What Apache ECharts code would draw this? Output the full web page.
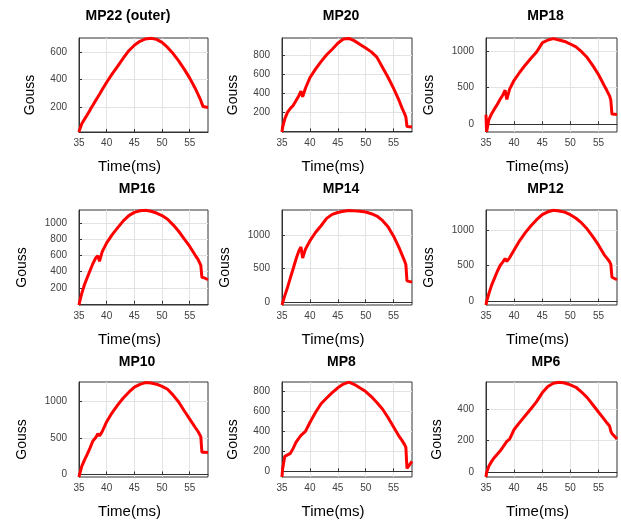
<!DOCTYPE html>
<html>
<head>
<meta charset="utf-8">
<script src="https://cdn.jsdelivr.net/npm/echarts@6/dist/echarts.min.js"></script>
<style>html,body{margin:0;padding:0;background:#fff}#chart{width:621px;height:520px}</style>
</head>
<body>
<div id="chart"></div>
<script>
// Shared time axis (ms)
const time = [35.0, 35.1, 35.5, 36, 36.5, 37, 37.5, 38, 38.4, 38.7, 39.2,
  40, 41, 42, 43, 44, 45, 46, 47, 48, 49, 50, 51, 52, 53, 54, 55, 56,
  56.5, 57, 57.2, 57.4, 57.6, 58.3];

// Field values (Gouss) per measuring point
const mp22 = [20, 35, 80, 113, 145, 180, 213, 247, 273, 293, 327,
  380, 440, 497, 554, 608, 648, 676, 693, 698, 690, 668, 632, 587, 535, 475, 410, 335,
  292, 248, 225, 205, 197, 197];
const mp20 = [-7, 40, 130, 200, 240, 270, 320, 370, 420, 360, 450,
  560, 650, 728, 800, 858, 920, 965, 970, 945, 908, 870, 830, 775, 670, 565, 448, 320,
  245, 180, 150, 50, 45, 45];
const mp18 = [130, -105, 60, 145, 210, 270, 340, 400, 465, 340, 480,
  600, 710, 810, 900, 985, 1110, 1150, 1168, 1150, 1130, 1095, 1055, 990, 910, 800, 680, 532,
  460, 385, 330, 140, 125, 135];
const mp16 = [-15, 20, 130, 240, 330, 415, 500, 570, 600, 530, 650,
  760, 862, 950, 1035, 1100, 1140, 1160, 1167, 1155, 1132, 1100, 1055, 985, 905, 810, 715, 605,
  555, 480, 330, 325, 325, 300];
const mp14 = [-40, -10, 100, 225, 365, 500, 640, 760, 825, 660, 790,
  915, 1040, 1140, 1250, 1310, 1338, 1355, 1368, 1362, 1356, 1345, 1320, 1285, 1220, 1125, 985, 810,
  710, 610, 560, 320, 320, 300];
const mp12 = [-46, 0, 110, 230, 325, 420, 500, 555, 600, 560, 610,
  720, 850, 960, 1055, 1140, 1210, 1250, 1272, 1262, 1245, 1210, 1160, 1095, 1010, 905, 790, 655,
  605, 555, 520, 340, 330, 305];
const mp10 = [-35, 0, 110, 200, 280, 365, 460, 505, 560, 530, 590,
  725, 850, 955, 1050, 1130, 1200, 1238, 1262, 1255, 1240, 1210, 1170, 1090, 995, 875, 760, 645,
  590, 520, 305, 305, 305, 300];
const mp8 = [-57, 20, 150, 165, 180, 230, 290, 330, 360, 380, 400,
  490, 590, 678, 735, 790, 838, 875, 894, 870, 835, 800, 750, 690, 625, 540, 445, 350,
  310, 265, 240, 30, 45, 100];
const mp6 = [-28, 0, 40, 70, 95, 115, 135, 160, 180, 195, 210,
  270, 315, 358, 400, 445, 500, 540, 560, 567, 562, 550, 535, 505, 470, 425, 380, 335,
  312, 290, 260, 245, 238, 210];

const titles = ['MP22 (outer)', 'MP20', 'MP18', 'MP16', 'MP14', 'MP12', 'MP10', 'MP8', 'MP6'];
const seriesValues = [mp22, mp20, mp18, mp16, mp14, mp12, mp10, mp8, mp6];

// Axis extents and tick labels
const xTicks = [35, 40, 45, 50, 55];
const yMin = [20, -7, -105, -15, -40, -46, -35, -57, -28];
const yMax = [700, 975, 1177, 1170, 1375, 1275, 1270, 896, 568];
const yTicks = [
  [200, 400, 600],
  [200, 400, 600, 800],
  [0, 500, 1000],
  [200, 400, 600, 800, 1000],
  [0, 500, 1000],
  [0, 500, 1000],
  [0, 500, 1000],
  [0, 200, 400, 600, 800],
  [0, 200, 400]
];

// Layout
const colLeft = [79, 282, 486];
const colWidth = [129, 130, 131];
const rowTop = [38, 210, 382];
const rowHeight = [94, 95, 95];
const titleCx = [128, 341, 545.5, 137, 341, 545.5, 137, 341.5, 546];
const titleTop = [9, 182, 355];
const FONT = 'Liberation Sans, Arial, sans-serif';

const grids = [], xAxes = [], yAxes = [], series = [], titleList = [];
for (let i = 0; i < 9; i++) {
  const r = Math.floor(i / 3), c = i % 3;
  grids.push({
    left: colLeft[c], top: rowTop[r], width: colWidth[c], height: rowHeight[r],
    show: true, borderColor: '#333', borderWidth: 1, backgroundColor: 'transparent'
  });
  titleList.push({
    text: titles[i], left: titleCx[i], top: titleTop[r], textAlign: 'center', padding: 0,
    textStyle: { fontFamily: FONT, fontSize: 14, fontWeight: 'bold', color: '#000' }
  });
  xAxes.push({
    type: 'value', gridIndex: i, min: 35, max: 58.3,
    name: 'Time(ms)', nameLocation: 'middle', nameGap: 27,
    nameTextStyle: { fontFamily: FONT, fontSize: 15, color: '#000', padding: [0, 28, 0, 0] },
    axisLine: { show: true, lineStyle: { color: '#333', width: 1 } },
    axisTick: { show: true, inside: true, length: 3, customValues: xTicks, lineStyle: { color: '#333' } },
    axisLabel: { customValues: xTicks, formatter: v => String(v), fontFamily: FONT, fontSize: 10, color: '#404040', margin: 6 },
    splitLine: { show: true, lineStyle: { color: '#e3e3e3', width: 1 } }
  });
  const wide = yTicks[i].some(v => String(v).length >= 4);
  yAxes.push({
    type: 'value', gridIndex: i, min: yMin[i], max: yMax[i],
    name: 'Gouss', nameLocation: 'middle', nameGap: wide ? 50 : 42,
    nameTextStyle: { fontFamily: FONT, fontSize: 14, color: '#000', padding: [0, 20, 0, 0] },
    axisLine: { show: true, lineStyle: { color: '#333', width: 1 } },
    axisTick: { show: true, inside: true, length: 3, customValues: yTicks[i], lineStyle: { color: '#333' } },
    axisLabel: { customValues: yTicks[i], formatter: v => String(v), fontFamily: FONT, fontSize: 10, color: '#404040', margin: 12 },
    splitLine: { show: true, lineStyle: { color: '#e3e3e3', width: 1 } }
  });
  series.push({
    type: 'line', xAxisIndex: i, yAxisIndex: i,
    data: time.map((t, k) => [t, seriesValues[i][k]]),
    showSymbol: false, symbol: 'none', smooth: false,
    lineStyle: { color: '#ff0000', width: 3 },
    clip: true, animation: false
  });
}

const chart = echarts.init(document.getElementById('chart'), null, { renderer: 'canvas' });
chart.setOption({
  backgroundColor: '#ffffff',
  animation: false,
  title: titleList,
  grid: grids,
  xAxis: xAxes,
  yAxis: yAxes,
  series: series
});
</script>
</body>
</html>
